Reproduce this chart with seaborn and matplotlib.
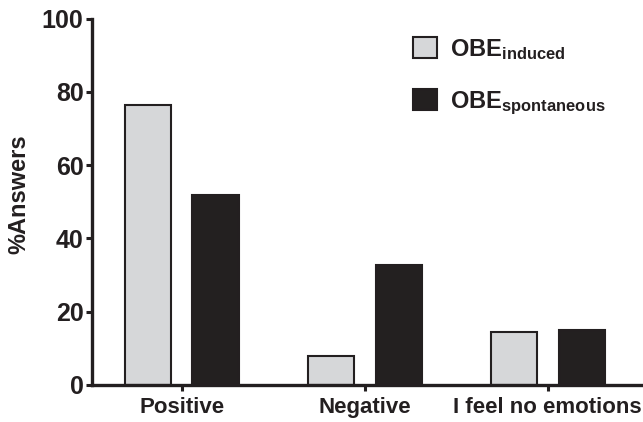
import pandas as pd
import numpy as np
import matplotlib
matplotlib.use('Agg')
import matplotlib.pyplot as plt
import seaborn as sns

# Data
categories = ['Positive', 'Negative', 'I feel no emotions']
induced = [76.4, 7.9, 14.5]
spontaneous = [51.9, 32.7, 14.9]
groups = ['induced', 'spontaneous']

df = pd.DataFrame({
    'emotion': categories * 2,
    'group': [groups[0]] * 3 + [groups[1]] * 3,
    'answers': induced + spontaneous,
})

sns.set_style('ticks')
plt.rcParams['font.family'] = ['Liberation Sans', 'DejaVu Sans']
plt.rcParams['font.weight'] = 'bold'
plt.rcParams['mathtext.fontset'] = 'custom'
plt.rcParams['mathtext.rm'] = 'Liberation Sans:bold'
plt.rcParams['mathtext.it'] = 'Liberation Sans:bold'
plt.rcParams['mathtext.bf'] = 'Liberation Sans:bold'

dark = '#231f20'
palette = {'induced': '#d6d7d9', 'spontaneous': dark}

fig = plt.figure(figsize=(6.43, 4.22), dpi=100)
ax = fig.add_axes([0.143, 0.088, 0.857, 0.868])
sns.barplot(x='emotion', y='answers', hue='group', data=df, palette=palette,
            width=0.74, gap=0.32, edgecolor=dark, linewidth=1.5, ax=ax)

ax.set_xlim(-0.49, 2.52)
ax.set_ylim(0, 100)
ax.set_yticks([0, 20, 40, 60, 80, 100])
ax.set_xlabel('')
ax.set_ylabel('%Answers', fontsize=17, fontweight='bold', color=dark)
ax.yaxis.set_label_coords(-0.112, 0.521)
ax.tick_params(axis='y', labelsize=18, width=2.2, length=4, color=dark, pad=2)
ax.tick_params(axis='x', labelsize=16, width=2.2, length=4, color=dark, pad=5)
for lab in ax.get_xticklabels() + ax.get_yticklabels():
    lab.set_fontweight('bold')
    lab.set_color(dark)
sns.despine(ax=ax)
for s in ['left', 'bottom']:
    ax.spines[s].set_linewidth(2.4)
    ax.spines[s].set_color(dark)

handles, _ = ax.get_legend_handles_labels()
leg = ax.legend(handles, [r'OBE$_{\mathrm{induced}}$', r'OBE$_{\mathrm{spontaneous}}$'],
                loc='upper left', bbox_to_anchor=(413 / 643, 1 - 37 / 422),
                bbox_transform=fig.transFigure, frameon=False,
                fontsize=17, handlelength=1.0, handleheight=1.0, handletextpad=0.55,
                labelspacing=1.15, borderpad=0, borderaxespad=0)
for t in leg.get_texts():
    t.set_color(dark)

plt.savefig('out.png', dpi=100)
